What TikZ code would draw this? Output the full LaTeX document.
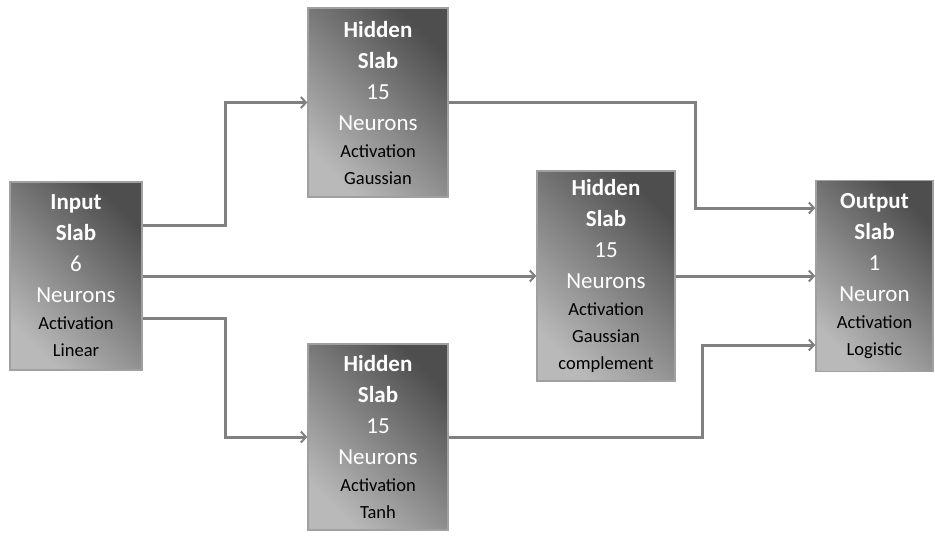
\documentclass[tikz,border=0pt]{standalone}
\usepackage{fontspec}
\setmainfont{Carlito}
\usepackage{tikz}
\usetikzlibrary{arrows.meta, positioning, calc}

\definecolor{slabdark}{RGB}{78,78,78}
\definecolor{slablight}{RGB}{185,185,185}
\definecolor{slabedge}{RGB}{160,160,160}
\definecolor{linkgray}{RGB}{128,128,128}

\newcommand{\bigtxt}{\fontsize{23}{31}\selectfont}
\newcommand{\acttxt}{\par\fontsize{18.5}{27}\selectfont\color{black}}

\tikzset{
  slab/.style={draw=slabedge, line width=1.5pt, inner sep=0pt, align=center,
               text=white, font=\bigtxt,
               top color=slabdark, bottom color=slablight, shading angle=-45},
  link/.style={draw=linkgray, line width=3pt,
               -{Straight Barb[length=5pt, width=11pt, line width=2pt]}}
}

\begin{document}
\begin{tikzpicture}[x=1pt, y=-1pt]
\useasboundingbox (0,0) rectangle (935,536);

% ---- Slabs --------------------------------------------------------------
\node[slab, text width=132pt, minimum height=188pt] (input) at (76,276)
      {\textbf{Input}\par\textbf{Slab}\par 6\par Neurons\acttxt Activation\par Linear\par};
\node[slab, text width=140pt, minimum height=189pt] (hidA) at (378,102.5)
      {\textbf{Hidden}\par\textbf{Slab}\par 15\par Neurons\acttxt Activation\par Gaussian\par};
\node[slab, text width=138pt, minimum height=210pt] (hidB) at (606,276)
      {\textbf{Hidden}\par\textbf{Slab}\par 15\par Neurons\acttxt Activation\par Gaussian\par complement\par};
\node[slab, text width=140pt, minimum height=186pt] (hidC) at (378,437)
      {\textbf{Hidden}\par\textbf{Slab}\par 15\par Neurons\acttxt Activation\par Tanh\par};
\node[slab, text width=117pt, minimum height=191pt] (output) at (874.5,276)
      {\textbf{Output}\par\textbf{Slab}\par 1\par Neuron\acttxt Activation\par Logistic\par};

% ---- Links --------------------------------------------------------------
\draw[link] ([yshift=51pt]input.east) -- ++(83,0) |- (hidA.west);
\draw[link] (input.east) -- (hidB.west);
\draw[link] ([yshift=-42pt]input.east) -- ++(83,0) |- (hidC.west);
\draw[link] (hidA.east) -- ++(247,0) |- ([yshift=68pt]output.west);
\draw[link] (hidB.east) -- (output.west);
\draw[link] (hidC.east) -- ++(254,0) |- ([yshift=-69pt]output.west);

\end{tikzpicture}
\end{document}
